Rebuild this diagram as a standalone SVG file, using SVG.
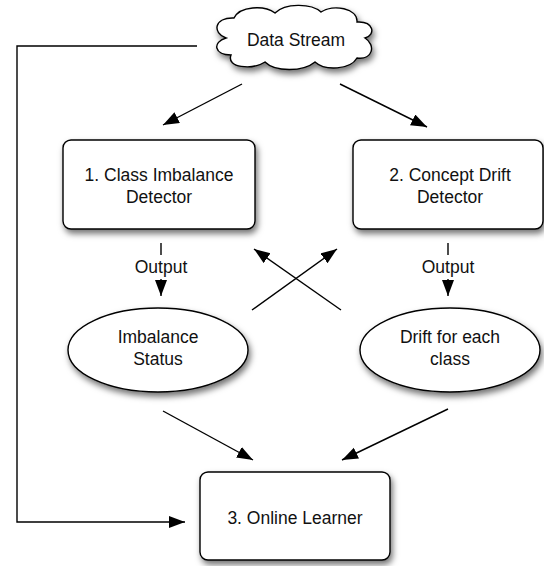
<svg xmlns="http://www.w3.org/2000/svg" width="544" height="566" viewBox="0 0 544 566">
<defs>
<filter id="sh" x="-20%" y="-20%" width="150%" height="160%">
<feDropShadow dx="2" dy="4" stdDeviation="3" flood-color="#000" flood-opacity="0.55"/>
</filter>
<marker id="ah" markerUnits="userSpaceOnUse" markerWidth="18" markerHeight="13" refX="16" refY="6" orient="auto">
<path d="M0,0 L16,6 L0,12 Z" fill="#000"/>
</marker>
</defs>
<style>
.n{fill:#fff;stroke:#000;stroke-width:1.4;filter:url(#sh)}
.t{font-family:"Liberation Sans",Arial,sans-serif;font-size:17.5px;fill:#111;text-anchor:middle}
.c{fill:none;stroke:#000;stroke-width:1.4}
.a{marker-end:url(#ah)}
</style>
<rect width="544" height="566" fill="#fff"/>
<g id="connectors">
<polyline class="c a" points="197,46 17,46 17,522 185,522"/>
<line class="c a" x1="242" y1="84" x2="163" y2="125"/>
<line class="c a" x1="340" y1="84" x2="427" y2="127"/>
<line class="c" x1="161" y1="243" x2="161" y2="255"/>
<line class="c a" x1="161" y1="279" x2="161" y2="296"/>
<text class="t" x="161" y="273">Output</text>
<line class="c" x1="448" y1="243" x2="448" y2="255"/>
<line class="c a" x1="448" y1="279" x2="448" y2="296"/>
<text class="t" x="448" y="273">Output</text>
<line class="c a" x1="252" y1="310" x2="337" y2="249"/>
<line class="c a" x1="341" y1="310" x2="254" y2="249"/>
<line class="c a" x1="163" y1="411" x2="253" y2="460"/>
<line class="c a" x1="448" y1="409" x2="342" y2="460"/>
</g>
<g id="data-stream">
<path class="n" d="M226,38 C212,33 214,17 234,18 C240,6 264,5 275,13 C285,3 311,3 321,12 C333,4 358,8 357,22 C374,21 376,35 365,38 C376,45 373,60 357,58 C350,70 325,71 315,62 C303,72 275,72 265,62 C252,70 226,68 231,55 C214,55 212,42 226,38 Z"/>
<text class="t" x="296" y="46">Data Stream</text>
</g>
<g id="imbalance-detector">
<rect class="n" x="63" y="140" width="192" height="89" rx="8"/>
<text class="t" x="159" y="181">1. Class Imbalance</text>
<text class="t" x="159" y="203">Detector</text>
</g>
<g id="drift-detector">
<rect class="n" x="353" y="140" width="190" height="89" rx="8"/>
<text class="t" x="450" y="181">2. Concept Drift</text>
<text class="t" x="450" y="203">Detector</text>
</g>
<g id="imbalance-status">
<ellipse class="n" cx="158" cy="350" rx="90" ry="42"/>
<text class="t" x="158" y="343">Imbalance</text>
<text class="t" x="158" y="365">Status</text>
</g>
<g id="drift-each-class">
<ellipse class="n" cx="450" cy="350" rx="90" ry="42"/>
<text class="t" x="450" y="343">Drift for each</text>
<text class="t" x="450" y="365">class</text>
</g>
<g id="online-learner">
<rect class="n" x="200" y="472" width="190" height="88" rx="8"/>
<text class="t" x="295" y="524">3. Online Learner</text>
</g>
</svg>
